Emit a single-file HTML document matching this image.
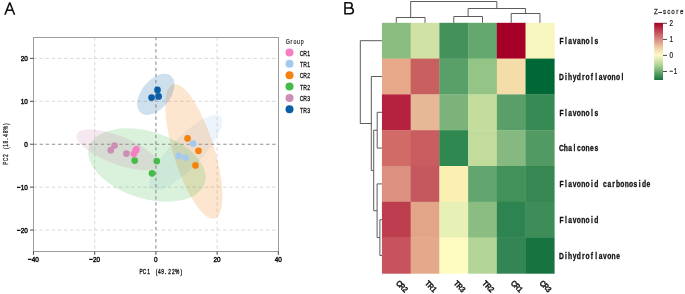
<!DOCTYPE html><html><head><meta charset="utf-8"><style>html,body{margin:0;padding:0;background:#fff;overflow:hidden;width:685px;height:294px;}svg{display:block;will-change:transform;}</style></head><body><svg width="685" height="294" viewBox="0 0 685 294">
<rect width="685" height="294" fill="#fff"/>
<path d="M4.95 14.75 L9.75 2.45 L14.55 14.75 M7.0 10.2 H12.6" fill="none" stroke="#111" stroke-width="1.6" stroke-linejoin="bevel"/>
<line x1="94.69" y1="37.3" x2="94.69" y2="251.5" stroke="#d4d4d4" stroke-width="0.9" stroke-dasharray="3.4 2.72"/>
<line x1="217.11" y1="37.3" x2="217.11" y2="251.5" stroke="#d4d4d4" stroke-width="0.9" stroke-dasharray="3.4 2.72"/>
<line x1="33.33" y1="58.36" x2="278.5" y2="58.36" stroke="#d4d4d4" stroke-width="0.9" stroke-dasharray="3.4 2.72"/>
<line x1="33.33" y1="101.29" x2="278.5" y2="101.29" stroke="#d4d4d4" stroke-width="0.9" stroke-dasharray="3.4 2.72"/>
<line x1="33.33" y1="187.15" x2="278.5" y2="187.15" stroke="#d4d4d4" stroke-width="0.9" stroke-dasharray="3.4 2.72"/>
<line x1="33.33" y1="230.08" x2="278.5" y2="230.08" stroke="#d4d4d4" stroke-width="0.9" stroke-dasharray="3.4 2.72"/>
<ellipse cx="135.60" cy="151.00" rx="8.50" ry="2.60" transform="rotate(-62.00 135.60 151.00)" fill="#f57fc4" fill-opacity="0.2"/>
<ellipse cx="185.80" cy="152.50" rx="50.20" ry="15.50" transform="rotate(-46.00 185.80 152.50)" fill="#a3c9ef" fill-opacity="0.2"/>
<ellipse cx="193.90" cy="151.40" rx="70.20" ry="20.50" transform="rotate(72.80 193.90 151.40)" fill="#f5820f" fill-opacity="0.2"/>
<ellipse cx="147.00" cy="165.00" rx="60.60" ry="33.50" transform="rotate(17.30 147.00 165.00)" fill="#46bb4a" fill-opacity="0.2"/>
<ellipse cx="117.30" cy="149.90" rx="43.40" ry="14.10" transform="rotate(21.20 117.30 149.90)" fill="#cc8eb4" fill-opacity="0.2"/>
<ellipse cx="155.80" cy="94.30" rx="23.90" ry="14.20" transform="rotate(-51.00 155.80 94.30)" fill="#0b5ea6" fill-opacity="0.2"/>
<line x1="155.90" y1="37.05" x2="155.90" y2="251.5" stroke="#8e8e8e" stroke-width="1.1" stroke-dasharray="3.3 2.82"/>
<line x1="33.55" y1="144.22" x2="278.5" y2="144.22" stroke="#8e8e8e" stroke-width="1.1" stroke-dasharray="3.3 2.82"/>
<circle cx="114.5" cy="145.5" r="3.35" fill="#cc8eb4"/>
<circle cx="110.8" cy="150.2" r="3.35" fill="#cc8eb4"/>
<circle cx="126.4" cy="153.6" r="3.35" fill="#cc8eb4"/>
<circle cx="134.7" cy="160.6" r="3.35" fill="#46bb4a"/>
<circle cx="156.8" cy="161.0" r="3.35" fill="#46bb4a"/>
<circle cx="152.0" cy="173.3" r="3.35" fill="#46bb4a"/>
<circle cx="136.4" cy="149.4" r="3.35" fill="#f57fc4"/>
<circle cx="135.7" cy="150.4" r="3.35" fill="#f57fc4"/>
<circle cx="133.9" cy="153.7" r="3.35" fill="#f57fc4"/>
<circle cx="193.1" cy="143.6" r="3.35" fill="#a3c9ef"/>
<circle cx="178.7" cy="155.9" r="3.35" fill="#a3c9ef"/>
<circle cx="185.5" cy="157.5" r="3.35" fill="#a3c9ef"/>
<circle cx="187.55" cy="138.4" r="3.35" fill="#f5820f"/>
<circle cx="198.5" cy="150.8" r="3.35" fill="#f5820f"/>
<circle cx="195.5" cy="165.4" r="3.35" fill="#f5820f"/>
<circle cx="157.5" cy="89.9" r="3.35" fill="#0b5ea6"/>
<circle cx="151.6" cy="97.6" r="3.35" fill="#0b5ea6"/>
<circle cx="158.6" cy="96.4" r="3.35" fill="#0b5ea6"/>
<rect x="33.5" y="37.5" width="245.0" height="214.0" fill="none" stroke="#9c9c9c" stroke-width="1"/>
<line x1="30.0" y1="58.36" x2="33.5" y2="58.36" stroke="#4a4a4a" stroke-width="1"/>
<text transform="translate(27.90 61.21) scale(0.8 1)" text-anchor="end" font-family="Liberation Sans, sans-serif" font-size="8.0" font-weight="normal" fill="#111" stroke="#111" stroke-width="0.5">20</text>
<line x1="30.0" y1="101.29" x2="33.5" y2="101.29" stroke="#4a4a4a" stroke-width="1"/>
<text transform="translate(27.90 104.14) scale(0.8 1)" text-anchor="end" font-family="Liberation Sans, sans-serif" font-size="8.0" font-weight="normal" fill="#111" stroke="#111" stroke-width="0.5">10</text>
<line x1="30.0" y1="144.22" x2="33.5" y2="144.22" stroke="#4a4a4a" stroke-width="1"/>
<text transform="translate(27.90 147.07) scale(0.8 1)" text-anchor="end" font-family="Liberation Sans, sans-serif" font-size="8.0" font-weight="normal" fill="#111" stroke="#111" stroke-width="0.5">0</text>
<line x1="30.0" y1="187.15" x2="33.5" y2="187.15" stroke="#4a4a4a" stroke-width="1"/>
<text transform="translate(27.90 190.00) scale(0.8 1)" text-anchor="end" font-family="Liberation Sans, sans-serif" font-size="8.0" font-weight="normal" fill="#111" stroke="#111" stroke-width="0.5">−10</text>
<line x1="30.0" y1="230.08" x2="33.5" y2="230.08" stroke="#4a4a4a" stroke-width="1"/>
<text transform="translate(27.90 232.93) scale(0.8 1)" text-anchor="end" font-family="Liberation Sans, sans-serif" font-size="8.0" font-weight="normal" fill="#111" stroke="#111" stroke-width="0.5">−20</text>
<line x1="33.48" y1="251.5" x2="33.48" y2="254.8" stroke="#4a4a4a" stroke-width="1"/>
<text transform="translate(33.48 262.2) scale(0.8 1)" text-anchor="middle" font-family="Liberation Sans, sans-serif" font-size="8.0" font-weight="normal" fill="#111" stroke="#111" stroke-width="0.5">−40</text>
<line x1="94.69" y1="251.5" x2="94.69" y2="254.8" stroke="#4a4a4a" stroke-width="1"/>
<text transform="translate(94.69 262.2) scale(0.8 1)" text-anchor="middle" font-family="Liberation Sans, sans-serif" font-size="8.0" font-weight="normal" fill="#111" stroke="#111" stroke-width="0.5">−20</text>
<line x1="155.90" y1="251.5" x2="155.90" y2="254.8" stroke="#4a4a4a" stroke-width="1"/>
<text transform="translate(155.90 262.2) scale(0.8 1)" text-anchor="middle" font-family="Liberation Sans, sans-serif" font-size="8.0" font-weight="normal" fill="#111" stroke="#111" stroke-width="0.5">0</text>
<line x1="217.11" y1="251.5" x2="217.11" y2="254.8" stroke="#4a4a4a" stroke-width="1"/>
<text transform="translate(217.11 262.2) scale(0.8 1)" text-anchor="middle" font-family="Liberation Sans, sans-serif" font-size="8.0" font-weight="normal" fill="#111" stroke="#111" stroke-width="0.5">20</text>
<line x1="278.32" y1="251.5" x2="278.32" y2="254.8" stroke="#4a4a4a" stroke-width="1"/>
<text transform="translate(278.32 262.2) scale(0.8 1)" text-anchor="middle" font-family="Liberation Sans, sans-serif" font-size="8.0" font-weight="normal" fill="#111" stroke="#111" stroke-width="0.5">40</text>
<text transform="translate(141.00 273.90) scale(0.68 1)" x="-2.37 2.73 9.20 21.54 25.01 29.86 35.48 40.01 45.45 50.08 58.01" y="0" font-family="Liberation Sans, sans-serif" font-size="7.1" font-weight="normal" fill="#111" stroke="#111" stroke-width="0.35" xml:space="preserve">PC1(49.22%)</text>
<text transform="translate(7.70 163.00) rotate(-90) scale(0.62 1)" x="-2.63 2.75 9.63 22.73 26.36 31.50 37.50 42.24 48.00 52.83 61.33" y="0" font-family="Liberation Sans, sans-serif" font-size="7.9" font-weight="normal" fill="#1a1a1a" stroke="#1a1a1a" stroke-width="0.25" xml:space="preserve">PC2(18.48%)</text>
<text transform="translate(285.90 44.30) scale(0.7 1)" x="-0.37 6.49 10.82 15.99 21.16" y="0" font-family="Liberation Sans, sans-serif" font-size="7.6" font-weight="normal" fill="#1a1a1a" stroke="#1a1a1a" stroke-width="0.2" xml:space="preserve">Group</text>
<circle cx="289.5" cy="52.50" r="4.0" fill="#f57fc4"/>
<text transform="translate(299.75 55.75) scale(0.64 1)" x="-0.12 5.43 11.64" y="0" font-family="Liberation Sans, sans-serif" font-size="8.0" font-weight="normal" fill="#111" stroke="#111" stroke-width="0.3" xml:space="preserve">CR1</text>
<circle cx="289.5" cy="63.85" r="4.0" fill="#a3c9ef"/>
<text transform="translate(299.75 67.10) scale(0.64 1)" x="0.33 5.43 11.64" y="0" font-family="Liberation Sans, sans-serif" font-size="8.0" font-weight="normal" fill="#111" stroke="#111" stroke-width="0.3" xml:space="preserve">TR1</text>
<circle cx="289.5" cy="75.20" r="4.0" fill="#f5820f"/>
<text transform="translate(299.75 78.45) scale(0.64 1)" x="-0.12 5.43 11.64" y="0" font-family="Liberation Sans, sans-serif" font-size="8.0" font-weight="normal" fill="#111" stroke="#111" stroke-width="0.3" xml:space="preserve">CR2</text>
<circle cx="289.5" cy="86.55" r="4.0" fill="#46bb4a"/>
<text transform="translate(299.75 89.80) scale(0.64 1)" x="0.33 5.43 11.64" y="0" font-family="Liberation Sans, sans-serif" font-size="8.0" font-weight="normal" fill="#111" stroke="#111" stroke-width="0.3" xml:space="preserve">TR2</text>
<circle cx="289.5" cy="97.90" r="4.0" fill="#cc8eb4"/>
<text transform="translate(299.75 101.15) scale(0.64 1)" x="-0.12 5.43 11.64" y="0" font-family="Liberation Sans, sans-serif" font-size="8.0" font-weight="normal" fill="#111" stroke="#111" stroke-width="0.3" xml:space="preserve">CR3</text>
<circle cx="289.5" cy="109.25" r="4.0" fill="#0b5ea6"/>
<text transform="translate(299.75 112.50) scale(0.64 1)" x="0.33 5.43 11.64" y="0" font-family="Liberation Sans, sans-serif" font-size="8.0" font-weight="normal" fill="#111" stroke="#111" stroke-width="0.3" xml:space="preserve">TR3</text>
<path d="M345.0 1.95 V14.6 M345.0 2.75 H349.4 C351.3 2.75 352.1 3.9 352.1 5.35 C352.1 6.9 351.2 8.0 349.4 8.0 H345.0 M349.4 8.0 H350.4 C352.6 8.0 353.3 9.3 353.3 10.85 C353.3 12.5 352.4 13.8 350.3 13.8 H345.0" fill="none" stroke="#111" stroke-width="1.6"/>
<rect x="381.95" y="22.80" width="29.02" height="36.10" fill="#8cbd80"/>
<rect x="410.67" y="22.80" width="29.02" height="36.10" fill="#d1e2a5"/>
<rect x="439.40" y="22.80" width="29.02" height="36.10" fill="#45915b"/>
<rect x="468.12" y="22.80" width="29.02" height="36.10" fill="#64a870"/>
<rect x="496.85" y="22.80" width="29.02" height="36.10" fill="#a60028"/>
<rect x="525.57" y="22.80" width="29.02" height="36.10" fill="#f7f6bf"/>
<rect x="381.95" y="58.60" width="29.02" height="36.10" fill="#e8a98a"/>
<rect x="410.67" y="58.60" width="29.02" height="36.10" fill="#c86060"/>
<rect x="439.40" y="58.60" width="29.02" height="36.10" fill="#58a068"/>
<rect x="468.12" y="58.60" width="29.02" height="36.10" fill="#95c487"/>
<rect x="496.85" y="58.60" width="29.02" height="36.10" fill="#f4dda8"/>
<rect x="525.57" y="58.60" width="29.02" height="36.10" fill="#006837"/>
<rect x="381.95" y="94.40" width="29.02" height="36.10" fill="#b5223f"/>
<rect x="410.67" y="94.40" width="29.02" height="36.10" fill="#e7b895"/>
<rect x="439.40" y="94.40" width="29.02" height="36.10" fill="#7cb37b"/>
<rect x="468.12" y="94.40" width="29.02" height="36.10" fill="#c4dd9d"/>
<rect x="496.85" y="94.40" width="29.02" height="36.10" fill="#5a9e69"/>
<rect x="525.57" y="94.40" width="29.02" height="36.10" fill="#388a55"/>
<rect x="381.95" y="130.20" width="29.02" height="36.10" fill="#d06b68"/>
<rect x="410.67" y="130.20" width="29.02" height="36.10" fill="#c85c5f"/>
<rect x="439.40" y="130.20" width="29.02" height="36.10" fill="#2e8850"/>
<rect x="468.12" y="130.20" width="29.02" height="36.10" fill="#c2dc9c"/>
<rect x="496.85" y="130.20" width="29.02" height="36.10" fill="#86b97f"/>
<rect x="525.57" y="130.20" width="29.02" height="36.10" fill="#519a63"/>
<rect x="381.95" y="166.00" width="29.02" height="36.10" fill="#dc9180"/>
<rect x="410.67" y="166.00" width="29.02" height="36.10" fill="#c4585e"/>
<rect x="439.40" y="166.00" width="29.02" height="36.10" fill="#fbf0b1"/>
<rect x="468.12" y="166.00" width="29.02" height="36.10" fill="#62a571"/>
<rect x="496.85" y="166.00" width="29.02" height="36.10" fill="#43915a"/>
<rect x="525.57" y="166.00" width="29.02" height="36.10" fill="#368752"/>
<rect x="381.95" y="201.80" width="29.02" height="36.10" fill="#bd3e4e"/>
<rect x="410.67" y="201.80" width="29.02" height="36.10" fill="#e2a588"/>
<rect x="439.40" y="201.80" width="29.02" height="36.10" fill="#e7f1b6"/>
<rect x="468.12" y="201.80" width="29.02" height="36.10" fill="#8bbc81"/>
<rect x="496.85" y="201.80" width="29.02" height="36.10" fill="#2e8450"/>
<rect x="525.57" y="201.80" width="29.02" height="36.10" fill="#3e8d59"/>
<rect x="381.95" y="237.60" width="29.02" height="36.10" fill="#c7535f"/>
<rect x="410.67" y="237.60" width="29.02" height="36.10" fill="#e4a88a"/>
<rect x="439.40" y="237.60" width="29.02" height="36.10" fill="#fefcc1"/>
<rect x="468.12" y="237.60" width="29.02" height="36.10" fill="#b3d598"/>
<rect x="496.85" y="237.60" width="29.02" height="36.10" fill="#338553"/>
<rect x="525.57" y="237.60" width="29.02" height="36.10" fill="#17733f"/>
<path d="M396.31 22.80V17.50H425.04V22.80" fill="none" stroke="#4a4a4a" stroke-width="0.9"/>
<path d="M453.76 22.80V16.50H482.49V22.80" fill="none" stroke="#4a4a4a" stroke-width="0.9"/>
<path d="M511.21 22.80V13.50H539.94V22.80" fill="none" stroke="#4a4a4a" stroke-width="0.9"/>
<path d="M468.12 16.50V8.50H525.58V13.50" fill="none" stroke="#4a4a4a" stroke-width="0.9"/>
<path d="M410.67 17.50V1.50H496.85V8.50" fill="none" stroke="#4a4a4a" stroke-width="0.9"/>
<path d="M381.95 219.70H379.90V255.50H381.95" fill="none" stroke="#4a4a4a" stroke-width="0.9"/>
<path d="M381.95 183.90H377.10V237.60H379.90" fill="none" stroke="#4a4a4a" stroke-width="0.9"/>
<path d="M381.95 112.30H377.20V148.10H381.95" fill="none" stroke="#4a4a4a" stroke-width="0.9"/>
<path d="M377.20 130.20H373.70V210.75H377.10" fill="none" stroke="#4a4a4a" stroke-width="0.9"/>
<path d="M381.95 76.50H371.30V170.47H373.70" fill="none" stroke="#4a4a4a" stroke-width="0.9"/>
<path d="M381.95 40.70H360.30V123.49H371.30" fill="none" stroke="#4a4a4a" stroke-width="0.9"/>
<text transform="translate(559.30 44.05) scale(0.82 1)" x="0.15 6.82 10.98 16.29 21.59 26.67 31.98 38.65 42.81" y="0" font-family="Liberation Sans, sans-serif" font-size="8.2" font-weight="bold" fill="#111" stroke="#111" stroke-width="0.3" xml:space="preserve">Flavanols</text>
<text transform="translate(559.30 79.85) scale(0.82 1)" x="-0.31 6.82 10.76 16.29 21.37 27.58 31.98 38.42 43.95 48.12 53.42 58.50 63.81 69.11 75.78" y="0" font-family="Liberation Sans, sans-serif" font-size="8.2" font-weight="bold" fill="#111" stroke="#111" stroke-width="0.3" xml:space="preserve">Dihydroflavonol</text>
<text transform="translate(559.30 115.65) scale(0.82 1)" x="0.15 6.82 10.98 16.29 21.37 26.67 31.98 38.65 42.81" y="0" font-family="Liberation Sans, sans-serif" font-size="8.2" font-weight="bold" fill="#111" stroke="#111" stroke-width="0.3" xml:space="preserve">Flavonols</text>
<text transform="translate(559.30 151.45) scale(0.82 1)" x="-0.31 5.45 10.98 17.43 21.59 26.67 31.98 37.51 42.81" y="0" font-family="Liberation Sans, sans-serif" font-size="8.2" font-weight="bold" fill="#111" stroke="#111" stroke-width="0.3" xml:space="preserve">Chalcones</text>
<text transform="translate(559.30 187.25) scale(0.82 1)" x="0.15 6.82 10.98 16.29 21.37 26.67 31.98 38.65 42.59 49.26 53.42 58.73 64.72 69.11 74.42 79.72 85.03 90.56 97.00 100.94 106.47" y="0" font-family="Liberation Sans, sans-serif" font-size="8.2" font-weight="bold" fill="#111" stroke="#111" stroke-width="0.3" xml:space="preserve">Flavonoid carbonoside</text>
<text transform="translate(559.30 223.05) scale(0.82 1)" x="0.15 6.82 10.98 16.29 21.37 26.67 31.98 38.65 42.59" y="0" font-family="Liberation Sans, sans-serif" font-size="8.2" font-weight="bold" fill="#111" stroke="#111" stroke-width="0.3" xml:space="preserve">Flavonoid</text>
<text transform="translate(559.30 258.85) scale(0.82 1)" x="-0.31 6.82 10.76 16.29 21.37 27.58 31.98 38.42 43.95 48.12 53.42 58.50 63.81 69.34" y="0" font-family="Liberation Sans, sans-serif" font-size="8.2" font-weight="bold" fill="#111" stroke="#111" stroke-width="0.3" xml:space="preserve">Dihydroflavone</text>
<text transform="translate(395.61 283.90) rotate(45) scale(0.82 1)" x="-0.31 5.00 10.98" y="0" font-family="Liberation Sans, sans-serif" font-size="8.2" font-weight="bold" fill="#111" stroke="#111" stroke-width="0.3" xml:space="preserve">CR2</text>
<text transform="translate(424.34 283.90) rotate(45) scale(0.82 1)" x="0.15 5.00 10.98" y="0" font-family="Liberation Sans, sans-serif" font-size="8.2" font-weight="bold" fill="#111" stroke="#111" stroke-width="0.3" xml:space="preserve">TR1</text>
<text transform="translate(453.06 283.90) rotate(45) scale(0.82 1)" x="0.15 5.00 10.98" y="0" font-family="Liberation Sans, sans-serif" font-size="8.2" font-weight="bold" fill="#111" stroke="#111" stroke-width="0.3" xml:space="preserve">TR3</text>
<text transform="translate(481.79 283.90) rotate(45) scale(0.82 1)" x="0.15 5.00 10.98" y="0" font-family="Liberation Sans, sans-serif" font-size="8.2" font-weight="bold" fill="#111" stroke="#111" stroke-width="0.3" xml:space="preserve">TR2</text>
<text transform="translate(510.51 283.90) rotate(45) scale(0.82 1)" x="-0.31 5.00 10.98" y="0" font-family="Liberation Sans, sans-serif" font-size="8.2" font-weight="bold" fill="#111" stroke="#111" stroke-width="0.3" xml:space="preserve">CR1</text>
<text transform="translate(539.24 283.90) rotate(45) scale(0.82 1)" x="-0.31 5.00 10.98" y="0" font-family="Liberation Sans, sans-serif" font-size="8.2" font-weight="bold" fill="#111" stroke="#111" stroke-width="0.3" xml:space="preserve">CR3</text>
<defs><linearGradient id="cb" x1="0" y1="0" x2="0" y2="1"><stop offset="0" stop-color="#a50026"/><stop offset="0.286" stop-color="#d88880"/><stop offset="0.43" stop-color="#f0cca4"/><stop offset="0.571" stop-color="#fcfac4"/><stop offset="0.75" stop-color="#a8d090"/><stop offset="1" stop-color="#17733f"/></linearGradient></defs>
<rect x="654.2" y="22.8" width="8.8" height="57.2" fill="url(#cb)"/>
<line x1="663" y1="23.3" x2="667" y2="23.3" stroke="#333" stroke-width="0.9"/>
<text transform="translate(669.00 26.05) scale(0.72 1)" x="0.54" y="0" font-family="Liberation Sans, sans-serif" font-size="8.8" font-weight="normal" fill="#1a1a1a" stroke="#1a1a1a" stroke-width="0.25" xml:space="preserve">2</text>
<line x1="663" y1="39.4" x2="667" y2="39.4" stroke="#333" stroke-width="0.9"/>
<text transform="translate(669.00 42.15) scale(0.72 1)" x="0.54" y="0" font-family="Liberation Sans, sans-serif" font-size="8.8" font-weight="normal" fill="#1a1a1a" stroke="#1a1a1a" stroke-width="0.25" xml:space="preserve">1</text>
<line x1="663" y1="55.4" x2="667" y2="55.4" stroke="#333" stroke-width="0.9"/>
<text transform="translate(669.00 58.15) scale(0.72 1)" x="0.54" y="0" font-family="Liberation Sans, sans-serif" font-size="8.8" font-weight="normal" fill="#1a1a1a" stroke="#1a1a1a" stroke-width="0.25" xml:space="preserve">0</text>
<line x1="663" y1="71.5" x2="667" y2="71.5" stroke="#333" stroke-width="0.9"/>
<text transform="translate(669.00 74.25) scale(0.72 1)" x="0.42 6.51" y="0" font-family="Liberation Sans, sans-serif" font-size="8.8" font-weight="normal" fill="#1a1a1a" stroke="#1a1a1a" stroke-width="0.25" xml:space="preserve">−1</text>
<text transform="translate(653.80 13.70) scale(0.78 1)" x="0.30 6.01 11.72 17.21 22.47 28.85 33.44" y="0" font-family="Liberation Sans, sans-serif" font-size="8.0" font-weight="normal" fill="#2a2a2a" stroke="#2a2a2a" stroke-width="0.25" xml:space="preserve">Z–score</text>
</svg></body></html>
